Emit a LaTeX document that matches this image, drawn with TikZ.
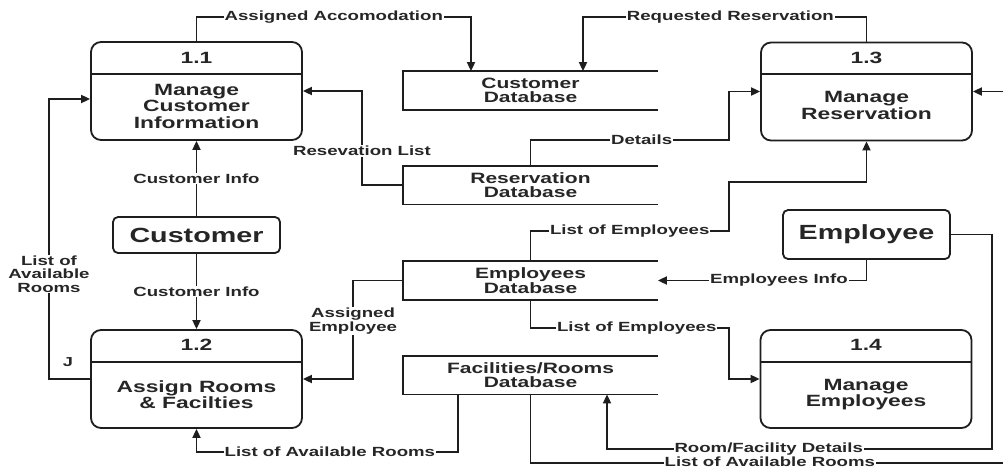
\documentclass[tikz,border=0pt]{standalone}
\usepackage{fontspec}
\setmainfont{Liberation Sans}[FakeStretch=1.4]
\usetikzlibrary{arrows.meta,calc}
\definecolor{ink}{RGB}{30,30,30}
\definecolor{txt}{RGB}{38,38,38}

\newcommand{\lblfont}{\fontsize{13.3}{13.5}\selectfont\bfseries}
\newcommand{\procfont}{\fontsize{16.3}{16.5}\selectfont\bfseries}
\newcommand{\storefont}{\fontsize{15}{14.5}\selectfont\bfseries}
\newcommand{\entfont}{\fontsize{20.5}{21}\selectfont\bfseries}

\tikzset{
  proc/.style={draw=ink, rounded corners=10pt, minimum width=211pt,
               minimum height=98pt, inner sep=0pt},
  ptitle/.style={text=txt, font=\procfont, inner sep=0pt},
  pbody/.style={text=txt, font=\procfont, align=center, inner sep=0pt},
  ent/.style={draw=ink, rounded corners=5pt, minimum width=167pt,
              inner sep=0pt, text=txt, font=\entfont},
  store/.style={minimum width=253pt, minimum height=37pt, inner sep=0pt,
                align=center, text=txt, font=\storefont},
  lbl/.style={fill=white, inner sep=1pt, text=txt, font=\lblfont, align=center},
  tight/.style={text height=9.6pt, text depth=2.6pt},
  flow/.style={draw=ink, -{Triangle[length=9pt,width=8pt]}},
}

\begin{document}
\begin{tikzpicture}[x=1pt, y=-1pt, line width=1.8pt, color=ink]
\useasboundingbox (0,0) rectangle (1003,471);
\fill[white] (0,0) rectangle (1003,471);
\clip (0,0) rectangle (1003,471);

% processes
\node[proc] (p11) at (196.5,91) {};
\node[proc] (p13) at (866.5,91.5) {};
\node[proc] (p12) at (196.5,379) {};
\node[proc] (p14) at (866,379) {};
\draw (p11.west |- 0,74) -- (p11.east |- 0,74);
\draw (p13.west |- 0,74) -- (p13.east |- 0,74);
\draw (p12.west |- 0,362) -- (p12.east |- 0,362);
\draw (p14.west |- 0,362) -- (p14.east |- 0,362);
\node[ptitle] (p11n) at (196.5,58) {1.1};
\node[ptitle] (p13n) at (866.5,58) {1.3};
\node[ptitle] (p12n) at (196.5,345) {1.2};
\node[ptitle] (p14n) at (866,345) {1.4};
\node[pbody] (p11t) at (196.5,106) {Manage\\Customer\\Information};
\node[pbody] (p13t) at (866.5,105.5) {Manage\\Reservation};
\node[pbody] (p12t) at (196.5,394.5) {Assign Rooms\\\& Facilties};
\node[pbody] (p14t) at (866,394.5) {Manage\\Employees};

% external entities
\node[ent, minimum height=36pt] (cust) at (196.5,235) {Customer};
\node[ent, minimum height=49pt] (empl) at (866.5,234.5) {Employee};

% data stores (open on the right)
\node[store] (dbc) at (530.5,90.5) {Customer\\Database};
\node[store] (dbr) at (530.5,185) {Reservation\\Database};
\node[store] (dbe) at (530.5,280.5) {Employees\\Database};
\node[store] (dbf) at (530.5,375) {Facilities/Rooms\\Database};
\foreach \s in {dbc,dbr,dbe,dbf}
  \draw (\s.north east) -- (\s.north west) -- (\s.south west) -- (\s.south east);

% data flows
\draw[flow] (p11.north) -- (196.5,17) -- node[lbl]{Assigned Accomodation} (471,17) -- (dbc.north -| 471,0);
\draw[flow] (p13.north) -- (866.5,17) -- node[lbl,pos=0.48]{Requested Reservation} (583,17) -- (dbc.north -| 583,0);
\draw[flow] (dbr.west) -- (362,185) -- node[lbl,pos=0.36]{Resevation List} (362,91) -- (p11.east |- 0,91);
\draw[flow] (dbr.north) -- (530.5,140) -- node[lbl,pos=0.56]{Details} (729,140) -- (729,91.5) -- (p13.west);
\draw[flow] (dbe.north) -- (530.5,231) -- node[lbl]{List of Employees} (729,231) -- (729,182) -- (866.5,182) -- (p13.south);
\draw[flow] (empl.south) -- (866.5,280.5) -- node[lbl,pos=0.42]{Employees Info} (dbe.east);
\draw[flow] (dbe.south) -- (530.5,328) -- node[lbl,pos=0.535]{List of Employees} (729,328) -- (729,379) -- (p14.west);
\draw[flow] (cust.north) -- node[lbl]{Customer Info} (p11.south);
\draw[flow] (cust.south) -- node[lbl]{Customer Info} (p12.north);
\draw[flow] (p12.west) -- (49,379) -- node[lbl,pos=0.375]{List of\\Available\\Rooms} (49,99) -- (p11.west |- 0,99);
\draw[flow] (dbe.west) -- (353,280.5) -- node[lbl,pos=0.41]{Assigned\\Employee} (353,379) -- (p12.east);
\draw[flow] (dbf.south -| 458,0) -- (458,452) -- node[lbl,pos=0.49]{List of Available Rooms} (196.5,452) -- (p12.south);
\draw[flow] (empl.east) -- (992,234.5) -- (992,449) -- node[lbl,tight,pos=0.58]{Room/Facility Details} (607,449) -- (dbf.south -| 607,0);
\draw[flow] (dbf.south) -- (530.5,463) -- node[lbl,tight,pos=0.497]{List of Available Rooms} (1012,463) -- (1012,91.5) -- (p13.east);

\node[text=txt, font=\fontsize{13}{13}\selectfont\bfseries, inner sep=0pt] (mark) at (68,362) {J};
\end{tikzpicture}
\end{document}
